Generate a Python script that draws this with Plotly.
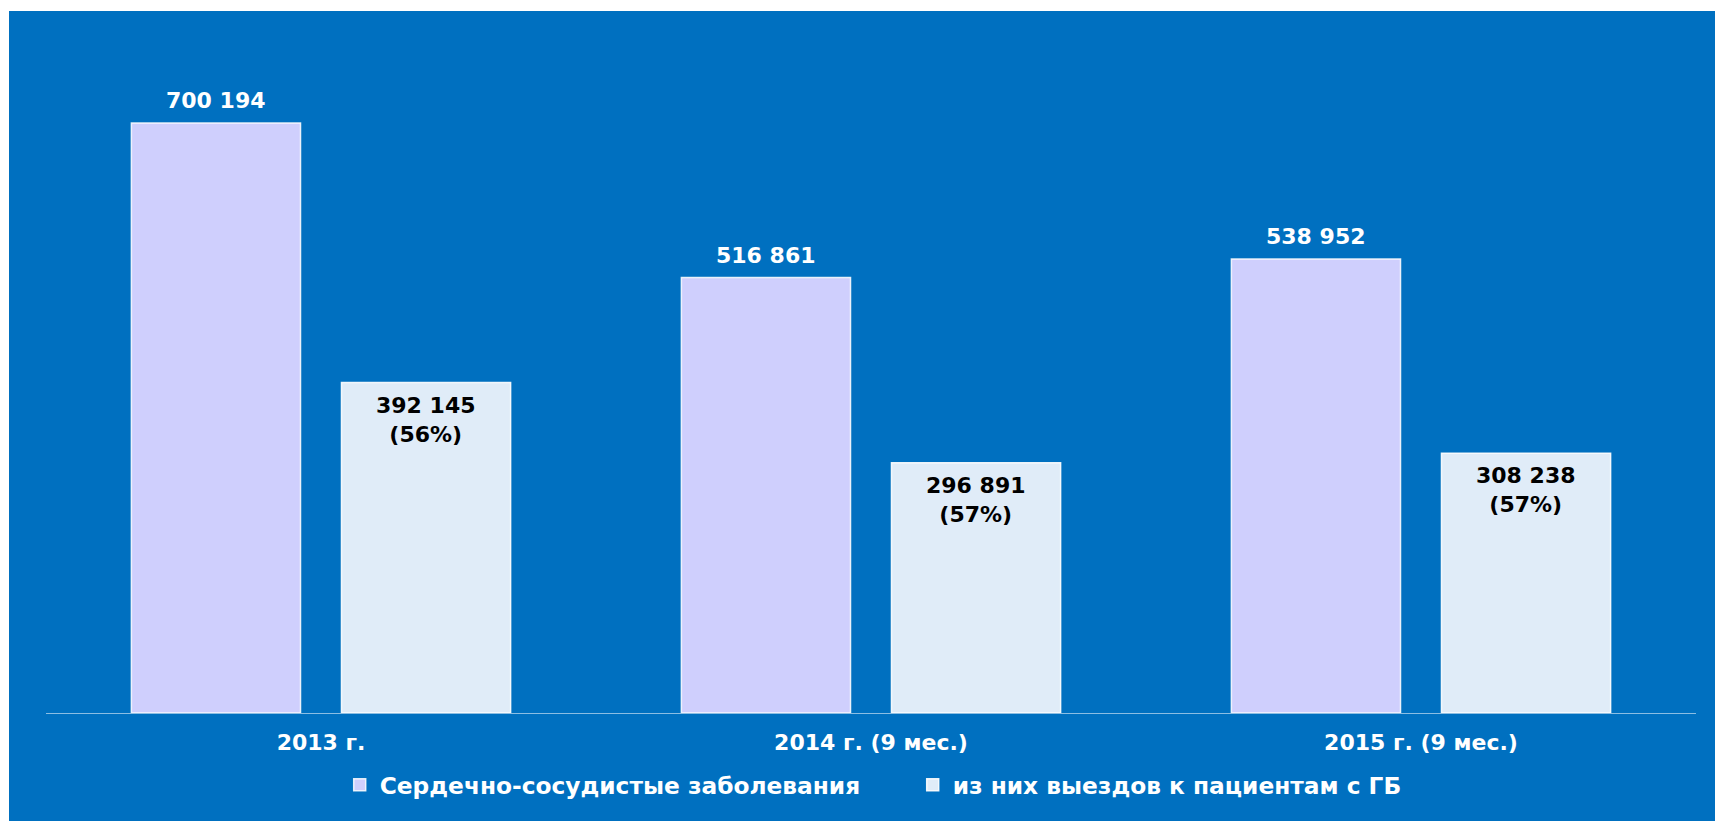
import plotly.graph_objects as go

categories = ["2013 г.", "2014 г. (9 мес.)", "2015 г. (9 мес.)"]
series_names = ["Сердечно-сосудистые заболевания", "из них выездов к пациентам с ГБ"]
cardio = [700194, 516861, 538952]
gb_calls = [392145, 296891, 308238]

BLUE = "#0070C0"
PURPLE = "#CFCFFD"
LIGHT = "#E0ECF8"
FONT = "DejaVu Sans"

# figure sits at (8, 8) in the page because of the default body margin
W, H = 1715, 813
L, R, T, B = 38, 27, 31, 108
pw, ph = W - L - R, H - T - B


def fmt(v):
    return f"{v:,}".replace(",", " ")


fig = go.Figure()
fig.add_trace(go.Bar(
    name=series_names[0], x=categories, y=cardio,
    marker=dict(color=PURPLE, line=dict(color="rgba(255,255,255,0.85)", width=1.5)),
    hoverinfo="skip",
))
fig.add_trace(go.Bar(
    name=series_names[1], x=categories, y=gb_calls,
    marker=dict(color=LIGHT, line=dict(color="rgba(255,255,255,0.9)", width=1.5)),
    hoverinfo="skip",
))

annotations = []
for c, v in zip(categories, cardio):
    annotations.append(dict(
        x=c, y=v, xref="x", yref="y", xshift=-105, yshift=8,
        yanchor="bottom", xanchor="center", showarrow=False,
        text=fmt(v), font=dict(family=FONT, size=22, color="white", weight="bold"),
    ))
for c, v, tot in zip(categories, gb_calls, cardio):
    pct = round(100 * v / tot)
    annotations.append(dict(
        x=c, y=v, xref="x", yref="y", xshift=105, yshift=-8,
        yanchor="top", xanchor="center", showarrow=False,
        text=f"{fmt(v)}<br>({pct}%)",
        font=dict(family=FONT, size=22, color="black", weight="bold"),
    ))

shapes = [
    dict(type="rect", xref="paper", yref="paper",
         x0=-1, x1=2, y0=(ph + T - 3) / ph, y1=3,
         fillcolor="white", line=dict(width=0), layer="above"),
    dict(type="rect", xref="paper", yref="paper",
         x0=-1, x1=(1 - L) / pw, y0=-1, y1=3,
         fillcolor="white", line=dict(width=0), layer="above"),
]

fig.update_layout(
    width=W, height=H,
    margin=dict(l=L, r=R, t=T, b=B, autoexpand=False),
    paper_bgcolor=BLUE, plot_bgcolor=BLUE,
    barmode="group", bargap=0.236, bargroupgap=0.195,
    font=dict(family=FONT, color="white"),
    xaxis=dict(
        showline=True, linecolor="rgba(255,255,255,0.55)", linewidth=1,
        ticks="", showgrid=False, zeroline=False,
        tickfont=dict(family=FONT, size=22, color="white", weight="bold"),
        ticklabelstandoff=10,
    ),
    yaxis=dict(range=[0, 800000], visible=False, showgrid=False, zeroline=False),
    legend=dict(
        orientation="h", x=0.178, xanchor="left", y=-0.107, yanchor="middle",
        font=dict(family=FONT, size=23.3, color="white", weight="bold"),
        bgcolor="rgba(0,0,0,0)", entrywidth=528, itemclick=False,
    ),
    annotations=annotations,
    shapes=shapes,
    showlegend=True,
)

fig.write_html("out.html")
